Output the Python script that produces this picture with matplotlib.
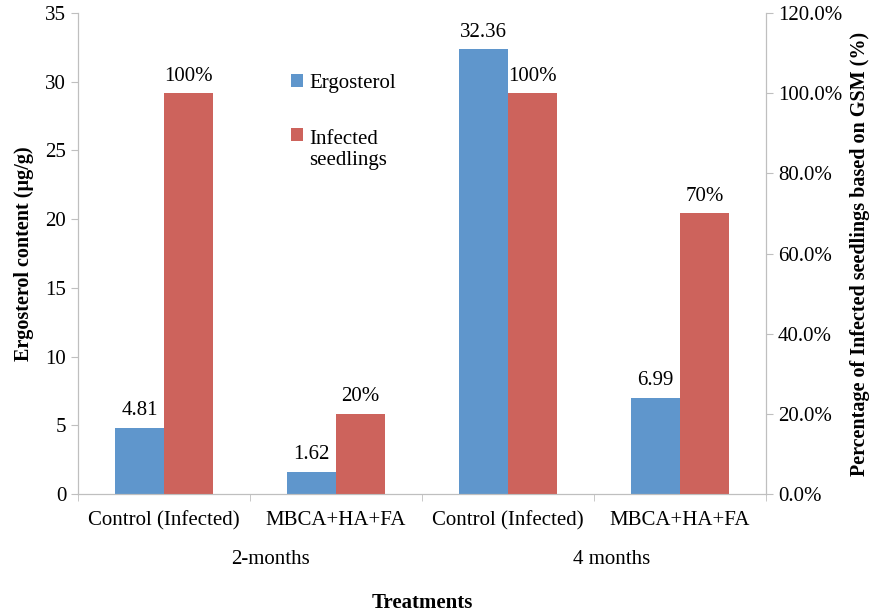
import matplotlib.pyplot as plt
import numpy as np
from matplotlib.ticker import FuncFormatter
from matplotlib.legend_handler import HandlerPatch
from matplotlib.patches import Rectangle

plt.rcParams['font.family'] = ['Liberation Serif', 'DejaVu Serif']

categories = ["Control (Infected)", "MBCA+HA+FA", "Control (Infected)", "MBCA+HA+FA"]
groups = ["2-months", "4 months"]
ergosterol = [4.81, 1.62, 32.36, 6.99]
infected_pct = [100, 20, 100, 70]

blue = '#5f96cc'
red = '#cd635c'
grey = '#bfbfbf'
fs = 15

fig = plt.figure(figsize=(8.79, 6.14), dpi=100)
ax = fig.add_axes([0.0887, 0.1954, 0.7827, 0.7834])
ax2 = ax.twinx()

x = np.arange(len(categories))
w = 0.285
b1 = ax.bar(x - w / 2, ergosterol, w, color=blue, label="Ergosterol")
b2 = ax2.bar(x + w / 2, infected_pct, w, color=red, label="Infected\nseedlings")

for xi, v in zip(x, ergosterol):
    ax.text(xi - w / 2, v + 0.55, f"{v:.2f}", ha='center', va='bottom', fontsize=fs)
for xi, v in zip(x, infected_pct):
    ax2.text(xi + w / 2, v + 1.9, f"{v}%", ha='center', va='bottom', fontsize=fs)

ax.set_xlim(-0.5, 3.5)
ax.set_ylim(0, 35)
ax.set_yticks(np.arange(0, 36, 5))
ax2.set_ylim(0, 120)
ax2.set_yticks(np.arange(0, 121, 20))
ax2.yaxis.set_major_formatter(FuncFormatter(lambda v, p: f"{v:.1f}%"))

ax.set_xticks(x)
ax.set_xticklabels(categories, fontsize=fs)
ax.set_xticks(np.arange(-0.5, 4, 1), minor=True)
ax.tick_params(axis='x', which='major', length=0, pad=12)
ax.tick_params(axis='x', which='minor', length=5, color=grey, direction='out')
ax.tick_params(axis='y', labelsize=fs, color=grey, length=5)
ax2.tick_params(axis='y', labelsize=fs, color=grey, length=5)

for a in (ax, ax2):
    a.spines['top'].set_visible(False)
    for s in ('left', 'right', 'bottom'):
        a.spines[s].set_color(grey)

ax.set_ylabel("Ergosterol content (µg/g)", fontsize=14.5, fontweight='bold', labelpad=8)
ax2.set_ylabel("Percentage of Infected seedlings based on GSM (%)", fontsize=14.5,
               fontweight='bold', labelpad=6)

ax.text(0.62, -0.137, groups[0], transform=ax.get_xaxis_transform(), ha='center', va='center', fontsize=fs)
ax.text(2.60, -0.137, groups[1], transform=ax.get_xaxis_transform(), ha='center', va='center', fontsize=fs)
ax.text(1.5, -0.226, "Treatments", transform=ax.get_xaxis_transform(), ha='center', va='center',
        fontsize=fs, fontweight='bold')


# square next to the first line of a two-line label
def top_square(legend, orig_handle, xdescent, ydescent, width, height, fontsize):
    return Rectangle((-xdescent, -ydescent + 0.72 * fontsize), width, height)


h1 = b1.patches[0]
h2 = b2.patches[0]
ax.legend([h1, h2], ["Ergosterol", "Infected\nseedlings"], loc='upper left',
          bbox_to_anchor=(0.283, 0.912), frameon=False, fontsize=fs, handlelength=0.55,
          handleheight=0.55, handletextpad=0.3, labelspacing=1.75,
          handler_map={h2: HandlerPatch(patch_func=top_square)})

fig.savefig("out.png", dpi=100)
